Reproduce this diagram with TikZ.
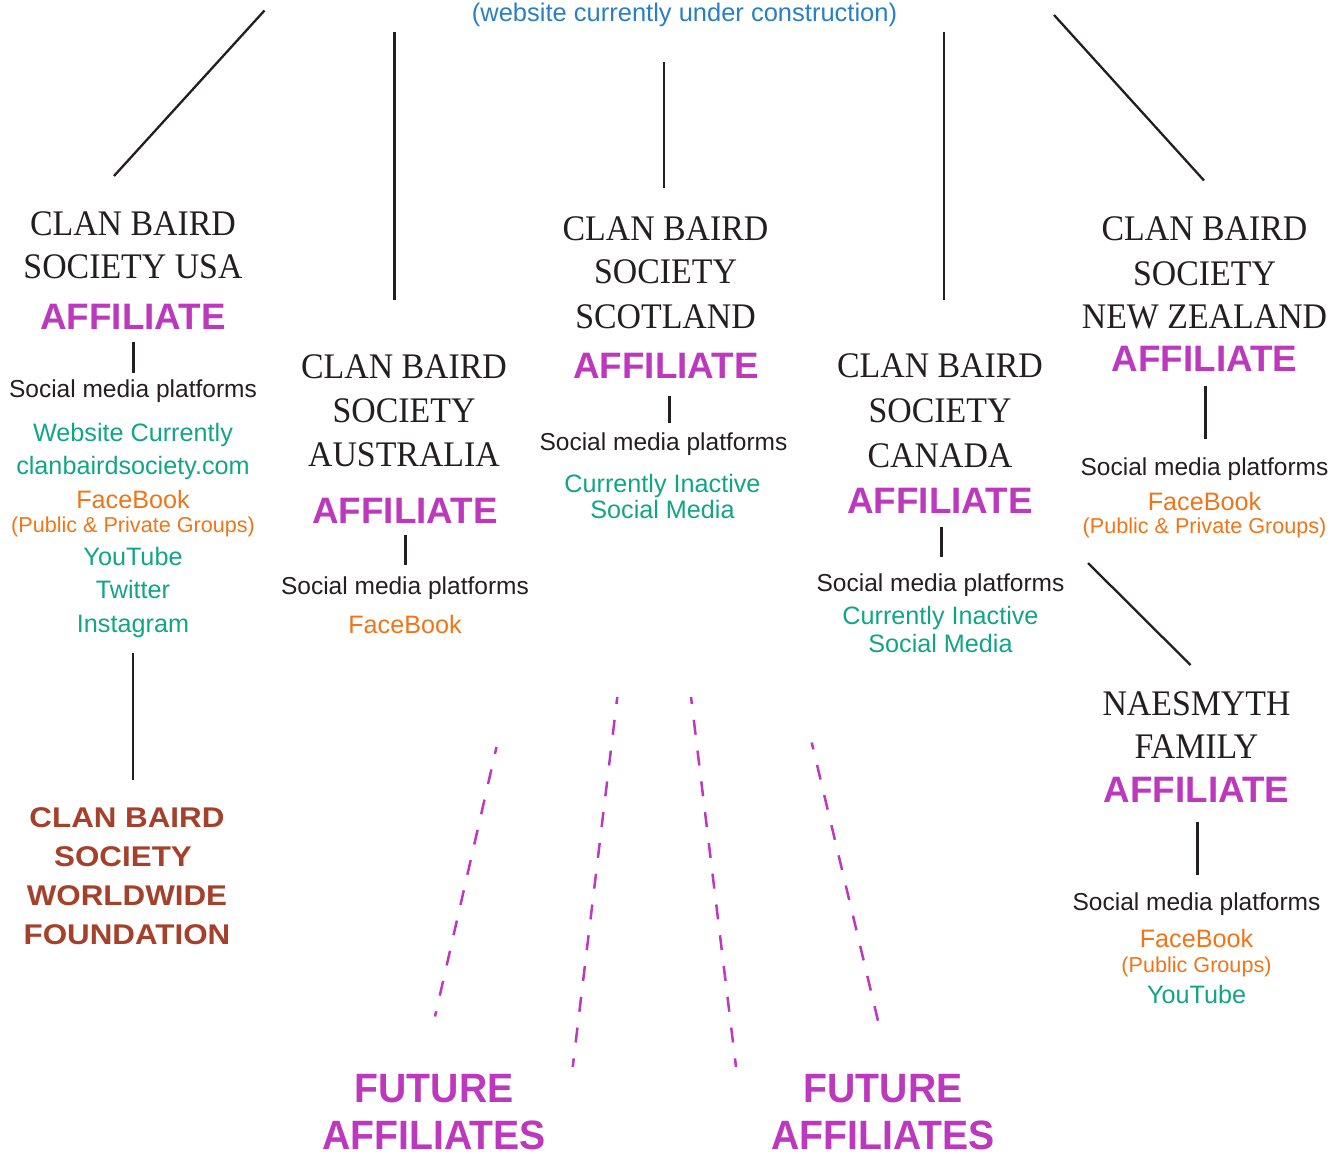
\documentclass[tikz,border=0pt]{standalone}
\usepackage{fontspec}
\setmainfont{Liberation Sans}
\newfontfamily\cbserif[FakeStretch=0.94]{Liberation Serif}
\newfontfamily\cbsans{Liberation Sans}
\newfontfamily\cbwide[FakeStretch=1.1]{Liberation Sans}
\newfontfamily\cbnarrow[FakeStretch=0.955]{Liberation Sans}
\definecolor{cbblack}{HTML}{231F20}
\definecolor{cbmag}{HTML}{BC38BC}
\definecolor{cbgreen}{HTML}{12A585}
\definecolor{cborange}{HTML}{EE7518}
\definecolor{cbblue}{HTML}{2A7FC2}
\definecolor{cbbrown}{HTML}{A5402B}
\tikzset{
  every node/.style={inner sep=0pt, outer sep=0pt, anchor=base},
  ttl/.style={font=\cbserif\fontsize{36}{40}\selectfont, text=cbblack},
  aff/.style={font=\cbsans\bfseries\fontsize{36.8}{40}\selectfont, text=cbmag},
  smp/.style={font=\cbsans\fontsize{24.5}{28}\selectfont, text=cbblack},
  grn/.style={font=\cbsans\fontsize{25.2}{28}\selectfont, text=cbgreen},
  org/.style={font=\cbsans\fontsize{25.2}{28}\selectfont, text=cborange},
  orgs/.style={font=\cbsans\fontsize{21.6}{24}\selectfont, text=cborange},
  web/.style={font=\cbsans\fontsize{25.5}{28}\selectfont, text=cbblue},
  fnd/.style={font=\cbwide\bfseries\fontsize{28.5}{32}\selectfont, text=cbbrown},
  fut/.style={font=\cbnarrow\bfseries\fontsize{41}{45}\selectfont, text=cbmag},
  conn/.style={draw=cbblack, line width=2.3pt},
  tickln/.style={draw=cbblack, line width=3pt},
  fdash/.style={draw=cbmag, line width=2.5pt, dash pattern=on 15pt off 16pt, dash phase=8pt}
}
\begin{document}
\begin{tikzpicture}[x=1pt,y=-1pt]
\useasboundingbox (0,0) rectangle (1340,1153);

% top text
\node[web] (web) at (684.5,22) {(website currently under construction)};

% USA
\node[ttl] (usa1) at (133,235) {CLAN BAIRD};
\node[ttl] (usa2) at (133,278) {SOCIETY USA};
\node[aff] (usaA) at (133,329) {AFFILIATE};
\node[smp] (usaS) at (133,397) {Social media platforms};
\node[grn] (usa3) at (133,441) {Website Currently};
\node[grn] (usa4) at (133,474) {clanbairdsociety.com};
\node[org] (usa5) at (133,508) {FaceBook};
\node[orgs] (usa6) at (133,532) {(Public \& Private Groups)};
\node[grn] (usa7) at (133,565) {YouTube};
\node[grn] (usa8) at (133,598) {Twitter};
\node[grn] (usa9) at (133,632) {Instagram};

% Foundation
\node[fnd] (fd1) at (127,827) {CLAN BAIRD};
\node[fnd] (fd2) at (123,866) {SOCIETY};
\node[fnd] (fd3) at (127,905) {WORLDWIDE};
\node[fnd] (fd4) at (127,944) {FOUNDATION};

% Australia
\node[ttl] (aus1) at (404,378) {CLAN BAIRD};
\node[ttl] (aus2) at (404,422) {SOCIETY};
\node[ttl] (aus3) at (404,466) {AUSTRALIA};
\node[aff] (ausA) at (405,523) {AFFILIATE};
\node[smp] (ausS) at (405,594) {Social media platforms};
\node[org] (aus4) at (405,633) {FaceBook};

% Scotland
\node[ttl] (sco1) at (665.5,240) {CLAN BAIRD};
\node[ttl] (sco2) at (665.5,283) {SOCIETY};
\node[ttl] (sco3) at (665.5,328) {SCOTLAND};
\node[aff] (scoA) at (666,378) {AFFILIATE};
\node[smp] (scoS) at (663.5,450) {Social media platforms};
\node[grn] (sco4) at (662.5,492) {Currently Inactive};
\node[grn] (sco5) at (662.5,518) {Social Media};

% Canada
\node[ttl] (can1) at (940,377) {CLAN BAIRD};
\node[ttl] (can2) at (940,422) {SOCIETY};
\node[ttl] (can3) at (940,467) {CANADA};
\node[aff] (canA) at (940,513) {AFFILIATE};
\node[smp] (canS) at (940.5,591) {Social media platforms};
\node[grn] (can4) at (940.5,624) {Currently Inactive};
\node[grn] (can5) at (940.5,652) {Social Media};

% New Zealand
\node[ttl] (nz1) at (1204.5,240) {CLAN BAIRD};
\node[ttl] (nz2) at (1204.5,285) {SOCIETY};
\node[ttl] (nz3) at (1204.5,328) {NEW ZEALAND};
\node[aff] (nzA) at (1204.5,371) {AFFILIATE};
\node[smp] (nzS) at (1204.5,475) {Social media platforms};
\node[org] (nz4) at (1204.5,510) {FaceBook};
\node[orgs] (nz5) at (1204.5,533) {(Public \& Private Groups)};

% Naesmyth
\node[ttl] (nae1) at (1196.5,715) {NAESMYTH};
\node[ttl] (nae2) at (1196.5,758) {FAMILY};
\node[aff] (naeA) at (1196.5,802) {AFFILIATE};
\node[smp] (naeS) at (1196.5,910) {Social media platforms};
\node[org] (nae3) at (1196.5,947) {FaceBook};
\node[orgs] (nae4) at (1196.5,972) {(Public Groups)};
\node[grn] (nae5) at (1196.5,1003) {YouTube};

% Future affiliates
\node[fut] (futL1) at (434,1102) {FUTURE};
\node[fut] (futL2) at (434,1149) {AFFILIATES};
\node[fut] (futR1) at (883,1102) {FUTURE};
\node[fut] (futR2) at (883,1149) {AFFILIATES};

% connector end points
\coordinate (cUSAt) at (264.5,10.5);
\coordinate (cUSAb) at (114,176);
\coordinate (cAUSt) at (394.5,32);
\coordinate (cAUSb) at (394.5,300);
\coordinate (cSCOt) at (664,62);
\coordinate (cSCOb) at (664,188);
\coordinate (cCANt) at (944,32);
\coordinate (cCANb) at (944,300);
\coordinate (cNZt) at (1054,15);
\coordinate (cNZb) at (1204,180.5);
\coordinate (cNAEt) at (1088,563);
\coordinate (cNAEb) at (1190.5,665);
\coordinate (cFDt) at (133,653);
\coordinate (cFDb) at (133,780);

\draw[conn] (cUSAt) -- (cUSAb);
\draw[conn] (cAUSt) -- (cAUSb);
\draw[conn] (cSCOt) -- (cSCOb);
\draw[conn] (cCANt) -- (cCANb);
\draw[conn] (cNZt) -- (cNZb);
\draw[conn] (cNAEt) -- (cNAEb);
\draw[conn] (cFDt) -- (cFDb);

% short ticks
\coordinate (tUSAt) at (133,342);  \coordinate (tUSAb) at (133,373);
\coordinate (tAUSt) at (405,535);  \coordinate (tAUSb) at (405,565);
\coordinate (tSCOt) at (669,396);  \coordinate (tSCOb) at (669,423);
\coordinate (tCANt) at (941,527);  \coordinate (tCANb) at (941,557);
\coordinate (tNZt) at (1205,386);  \coordinate (tNZb) at (1205,439);
\coordinate (tNAEt) at (1197,822); \coordinate (tNAEb) at (1197,875);
\draw[tickln] (tUSAt) -- (tUSAb);
\draw[tickln] (tAUSt) -- (tAUSb);
\draw[tickln] (tSCOt) -- (tSCOb);
\draw[tickln] (tCANt) -- (tCANb);
\draw[tickln] (tNZt) -- (tNZb);
\draw[tickln] (tNAEt) -- (tNAEb);

% dashed future lines
\coordinate (d1t) at (496.5,747); \coordinate (d1b) at (435,1016.5);
\coordinate (d2t) at (617.3,697); \coordinate (d2b) at (572.7,1067);
\coordinate (d3t) at (691,697);   \coordinate (d3b) at (736,1067);
\coordinate (d4t) at (811.7,742.5); \coordinate (d4b) at (878.3,1022);
\draw[fdash] (d1t) -- (d1b);
\draw[fdash] (d2t) -- (d2b);
\draw[fdash] (d3t) -- (d3b);
\draw[fdash] (d4t) -- (d4b);
\end{tikzpicture}
\end{document}
